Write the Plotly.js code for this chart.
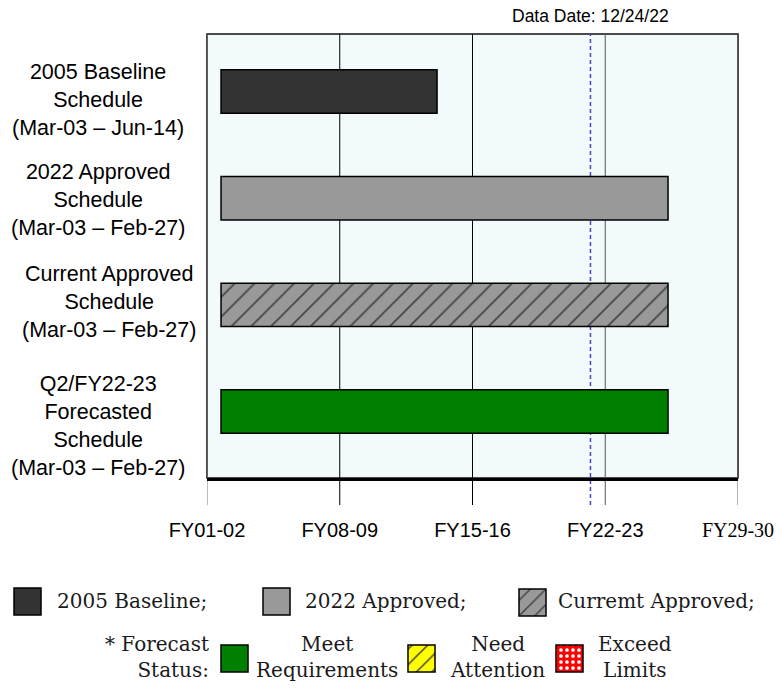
<!DOCTYPE html>
<html><head><meta charset="utf-8">
<script src="https://cdn.plot.ly/plotly-3.0.1.min.js"></script>
<style>html,body{margin:0;padding:0;background:#fff}#chart{width:777px;height:688px}</style>
</head><body><div id="chart"></div>
<script>
// ---------- data ----------
const schedules = ['2005 Baseline', '2022 Approved', 'Current Approved', 'Q2/FY22-23 Forecasted'];
const scheduleLabels = [
  '2005 Baseline<br>Schedule<br>(Mar-03 – Jun-14)',
  '2022 Approved<br>Schedule<br>(Mar-03 – Feb-27)',
  'Current Approved<br>Schedule<br>(Mar-03 – Feb-27)',
  'Q2/FY22-23<br>Forecasted<br>Schedule<br>(Mar-03 – Feb-27)'
];
const startYears = [2003.24, 2003.24, 2003.24, 2003.24];
const endYears = [2014.63, 2026.81, 2026.81, 2026.81];
const dataDate = 2022.72;
const dataDateLabel = 'Data Date: 12/24/22';
const tickYears = [2002.5, 2009.5, 2016.5, 2023.5, 2030.5];
const tickLabels = ['FY01-02', 'FY08-09', 'FY15-16', 'FY22-23', 'FY29-30'];
const legendRow1 = ['2005 Baseline;', '2022 Approved;', 'Curremt Approved;'];
const statusLabel = '* Forecast<br>Status:';
const legendRow2 = ['Meet<br>Requirements', 'Need<br>Attention', 'Exceed<br>Limits'];

// ---------- styles / layout ----------
const W = 777, H = 688;
const plotL = 207, plotR = 738, plotT = 34, plotB = 478;
const px = x => x / W, py = y => 1 - y / H;
const barColors = ['#333333', '#999999', '#999999', '#008000'];
const barPatterns = ['', '', '/', ''];
const lineColors = ['#777777', '#000000', '#000000', '#555555', '#666666'];
const labelShift = [-9, -2, 2.5, -14.5];
const labelXShift = [0, 0, 11, 0];

const bars = {
  type: 'bar', orientation: 'h',
  y: schedules,
  base: startYears,
  x: startYears.map((s, i) => endYears[i] - s),
  width: 0.407,
  marker: {
    color: barColors,
    line: {color: '#000', width: 1.5},
    pattern: {shape: barPatterns, fgcolor: '#000', fgopacity: 1, size: 14, solidity: 0.12, fillmode: 'overlay'}
  },
  hoverinfo: 'skip', showlegend: false
};

// legend swatches on a helper axis pair (pixel units)
const swatchColors = ['#333333', '#999999', '#999999', '#008000', '#ffff00', '#ff0000'];
const swatchPatterns = ['', '', '/', '', '/', '.'];
const swatchFg = ['#000', '#000', '#000', '#000', '#000', '#ffffff'];
const swatchSize = [11, 11, 11, 11, 11, 6];
const swatchSolid = [0.14, 0.14, 0.14, 0.14, 0.14, 0.3];
const swatchX = [14, 263, 519, 221, 408, 556];
const swatchY = [601.5, 601.5, 602.5, 658.5, 658.5, 658.5];
const swatch = {
  type: 'bar', orientation: 'h', xaxis: 'x2', yaxis: 'y2',
  base: swatchX, x: swatchX.map(() => 27), y: swatchY, width: 27,
  marker: {
    color: swatchColors,
    line: {color: '#000', width: 1.5},
    pattern: {shape: swatchPatterns, fgcolor: swatchFg, fgopacity: 1, size: swatchSize, solidity: swatchSolid, fillmode: 'overlay'}
  },
  hoverinfo: 'skip', showlegend: false
};

const shapes = [
  {type: 'rect', xref: 'paper', yref: 'paper', x0: px(plotL), x1: px(plotR), y0: py(plotB), y1: py(plotT),
   fillcolor: '#f2fafc', line: {color: '#111', width: 1.5}, layer: 'below'}
];
tickYears.forEach((t, i) => shapes.push({
  type: 'line', xref: 'x', yref: 'paper', x0: t, x1: t, y0: py(505), y1: py(plotT),
  line: {color: lineColors[i], width: 1}, layer: 'below'
}));
shapes.push({type: 'line', xref: 'x', yref: 'paper', x0: dataDate, x1: dataDate, y0: py(505), y1: py(plotT),
  line: {color: '#4646c8', width: 1.5, dash: '4px,3px'}, layer: 'below'});

const sansFont = 'Liberation Sans, Arial, sans-serif';
const serifFont = 'DejaVu Serif, serif';
const annotations = [];
scheduleLabels.forEach((t, i) => annotations.push({
  text: t, xref: 'paper', x: px(98), yref: 'y', y: i, xanchor: 'center', yanchor: 'middle',
  align: 'center', showarrow: false, yshift: labelShift[i], xshift: labelXShift[i],
  font: {family: sansFont, size: 21.5, color: '#000'}
}));
annotations.push({text: dataDateLabel, xref: 'x', x: dataDate, yref: 'paper', y: py(16),
  xanchor: 'center', yanchor: 'middle', showarrow: false, font: {family: sansFont, size: 17.5, color: '#000'}});
const row1X = [55, 303, 556];
legendRow1.forEach((t, i) => annotations.push({text: t, xref: 'paper', x: px(row1X[i]), yref: 'paper', y: py(601),
  xanchor: 'left', yanchor: 'middle', showarrow: false, font: {family: serifFont, size: 20, color: '#1a1a1a'}}));
annotations.push({text: statusLabel, xref: 'paper', x: px(211), yref: 'paper', y: py(657), xanchor: 'right',
  yanchor: 'middle', align: 'right', showarrow: false, font: {family: serifFont, size: 20, color: '#1a1a1a'}});
const row2X = [327, 497, 635];
legendRow2.forEach((t, i) => annotations.push({text: t, xref: 'paper', x: px(row2X[i]), yref: 'paper', y: py(657),
  xanchor: 'center', yanchor: 'middle', align: 'center', showarrow: false, font: {family: serifFont, size: 20, color: '#1a1a1a'}}));

const layout = {
  width: W, height: H,
  margin: {l: 0, r: 0, t: 0, b: 0},
  paper_bgcolor: '#ffffff', plot_bgcolor: '#ffffff',
  barmode: 'overlay', hovermode: false, showlegend: false,
  xaxis: {
    domain: [px(plotL), px(plotR)], range: [tickYears[0], tickYears[tickYears.length - 1]],
    tickmode: 'array', tickvals: tickYears,
    ticktext: tickLabels.map((t, i) => i === tickLabels.length - 1 ? '<span style="font-family:Liberation Serif">' + t + '</span>' : t),
    tickfont: {family: sansFont, size: 20, color: '#000'},
    ticks: 'outside', ticklen: 32, tickcolor: 'rgba(0,0,0,0)',
    showline: true, linecolor: '#000', linewidth: 3,
    showgrid: false, zeroline: false, fixedrange: true
  },
  yaxis: {
    domain: [py(plotB), py(plotT)], type: 'category', range: [3.623, -0.539],
    showticklabels: false, ticks: '', showgrid: false, zeroline: false, showline: false, fixedrange: true
  },
  xaxis2: {domain: [0, 1], range: [0, W], anchor: 'y2', visible: false, fixedrange: true},
  yaxis2: {domain: [0, py(575)], range: [H, 575], anchor: 'x2', visible: false, fixedrange: true},
  shapes: shapes,
  annotations: annotations
};

Plotly.newPlot('chart', [bars, swatch], layout, {displayModeBar: false, staticPlot: true});
</script></body></html>
